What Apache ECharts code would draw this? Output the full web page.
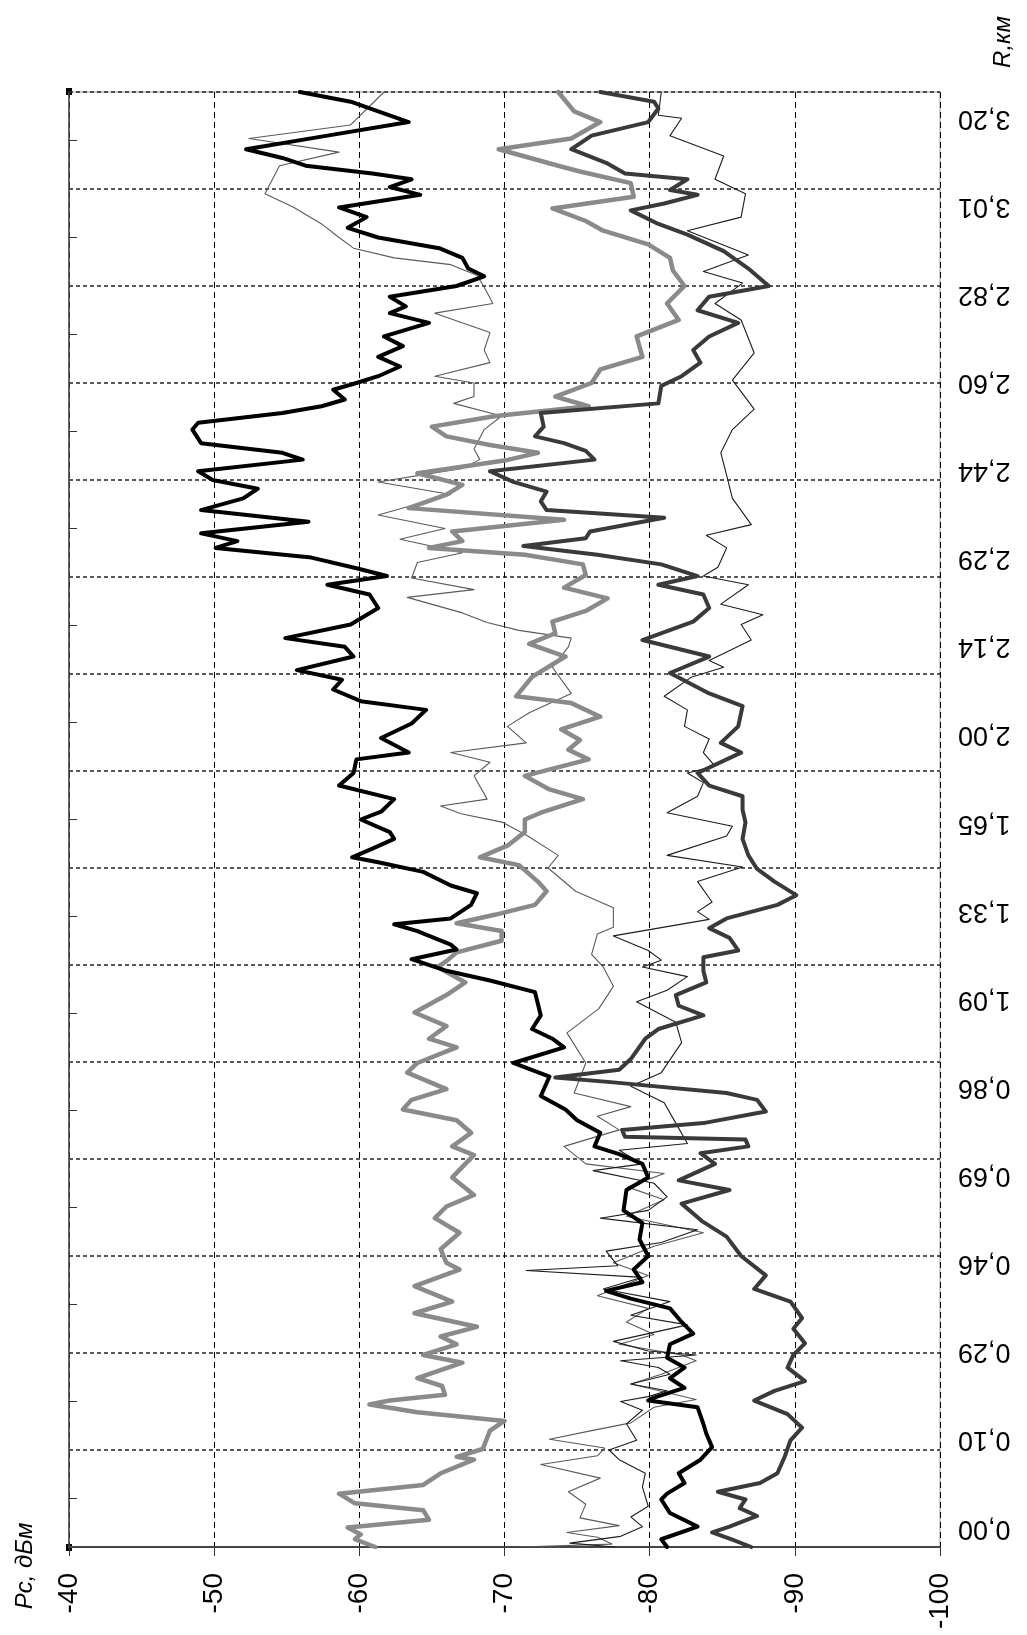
<!DOCTYPE html>
<html>
<head>
<meta charset="utf-8">
<script src="https://cdn.jsdelivr.net/npm/echarts@6/dist/echarts.min.js"></script>
<style>
html,body{margin:0;padding:0;background:#fff;}
#chart{width:1027px;height:1635px;}
</style>
</head>
<body>
<div id="chart"></div>
<script>
// Distance tick labels (R, km), evenly spaced along the sample axis
const rLabels = ['0,00','0,10','0,29','0,46','0,69','0,86','1,09','1,33','1,65','2,00','2,14','2,29','2,44','2,60','2,82','3,01','3,20'];
// Power axis range (dBm)
const pMin = -100, pMax = -40, pStep = 10;
// Sample-position axis: 15 grid divisions
const posMax = 15;

// Each series: [position (grid units from bottom), power dBm]
const blackThick = [[0.00,-81.2],[0.08,-80.8],[0.21,-83.3],[0.35,-81.4],[0.49,-80.8],[0.55,-81.2],[0.66,-82.4],[0.76,-82.0],[0.90,-83.5],[1.03,-84.3],[1.17,-83.9],[1.27,-83.7],[1.44,-83.3],[1.51,-79.9],[1.54,-80.3],[1.64,-82.4],[1.74,-81.4],[1.85,-82.4],[1.95,-81.2],[2.09,-81.4],[2.20,-83.0],[2.32,-82.2],[2.46,-81.4],[2.56,-78.7],[2.64,-77.0],[2.73,-79.5],[2.86,-78.9],[3.00,-79.9],[3.17,-79.3],[3.34,-79.5],[3.47,-78.2],[3.68,-78.4],[3.81,-79.9],[3.95,-79.5],[4.05,-77.9],[4.13,-76.2],[4.27,-76.6],[4.40,-75.0],[4.51,-74.2],[4.65,-72.5],[4.85,-73.1],[4.99,-70.6],[5.15,-74.1],[5.24,-73.3],[5.34,-71.9],[5.48,-72.5],[5.72,-72.1],[5.84,-69.0],[5.94,-66.0],[6.06,-63.6],[6.16,-66.7],[6.21,-66.3],[6.35,-64.0],[6.42,-62.4],[6.48,-66.3],[6.62,-67.7],[6.74,-68.1],[6.82,-66.3],[6.96,-64.4],[7.06,-61.3],[7.11,-59.5],[7.20,-60.9],[7.30,-62.4],[7.37,-62.1],[7.50,-60.1],[7.58,-61.5],[7.71,-62.4],[7.85,-58.6],[7.98,-59.6],[8.12,-59.8],[8.19,-63.4],[8.34,-61.5],[8.49,-63.6],[8.63,-64.6],[8.72,-60.1],[8.84,-58.2],[8.94,-58.8],[9.04,-55.7],[9.18,-59.6],[9.28,-59.0],[9.37,-54.9],[9.51,-59.4],[9.68,-61.3],[9.82,-60.7],[9.92,-57.8],[10.01,-61.9],[10.09,-59.8],[10.20,-56.7],[10.30,-50.1],[10.37,-51.6],[10.45,-49.1],[10.57,-56.5],[10.69,-49.1],[10.81,-52.0],[10.91,-53.0],[11.00,-49.9],[11.09,-48.9],[11.21,-56.1],[11.28,-54.7],[11.38,-49.1],[11.52,-48.5],[11.59,-48.9],[11.69,-54.7],[11.76,-57.4],[11.83,-59.0],[11.93,-58.2],[12.00,-59.8],[12.07,-61.3],[12.17,-62.8],[12.27,-61.3],[12.38,-63.0],[12.48,-61.7],[12.62,-64.8],[12.72,-62.1],[12.79,-63.2],[12.89,-62.1],[13.00,-66.7],[13.10,-68.6],[13.18,-67.5],[13.29,-67.1],[13.39,-65.5],[13.50,-61.3],[13.60,-59.2],[13.71,-60.5],[13.81,-58.6],[13.94,-64.2],[14.02,-62.1],[14.10,-63.6],[14.16,-60.9],[14.24,-56.3],[14.32,-54.7],[14.41,-52.2],[14.55,-57.8],[14.69,-63.4],[14.90,-59.4],[15.00,-55.9]];

const grayThick = [[0.00,-61.1],[0.08,-59.7],[0.13,-60.1],[0.20,-59.2],[0.28,-64.8],[0.38,-64.4],[0.45,-59.7],[0.55,-58.6],[0.64,-64.4],[0.76,-65.6],[0.90,-67.9],[0.93,-66.7],[1.01,-68.5],[1.20,-69.0],[1.30,-70.0],[1.39,-64.0],[1.47,-60.7],[1.51,-62.1],[1.57,-65.9],[1.66,-65.7],[1.74,-64.0],[1.90,-67.1],[1.98,-64.4],[2.09,-66.7],[2.17,-65.6],[2.27,-68.1],[2.41,-63.8],[2.53,-66.4],[2.69,-63.8],[2.86,-66.9],[2.93,-66.0],[3.07,-65.6],[3.24,-66.9],[3.39,-65.2],[3.51,-66.0],[3.63,-67.9],[3.81,-66.4],[3.95,-67.3],[4.04,-67.9],[4.13,-66.4],[4.27,-67.7],[4.40,-66.7],[4.51,-63.0],[4.61,-63.6],[4.72,-66.0],[4.89,-63.3],[4.99,-64.0],[5.15,-66.7],[5.24,-64.8],[5.37,-66.0],[5.51,-63.8],[5.69,-66.0],[5.82,-67.3],[5.98,-65.4],[6.04,-66.0],[6.13,-66.7],[6.25,-69.8],[6.35,-69.8],[6.43,-66.7],[6.52,-69.4],[6.62,-72.1],[6.76,-72.9],[6.86,-72.3],[7.03,-71.0],[7.11,-68.3],[7.23,-70.2],[7.37,-71.4],[7.50,-71.4],[7.57,-72.5],[7.71,-75.4],[7.81,-73.1],[7.95,-71.4],[8.12,-75.8],[8.22,-74.4],[8.32,-75.2],[8.43,-73.9],[8.56,-76.6],[8.70,-74.6],[8.77,-70.8],[8.97,-71.9],[9.18,-74.2],[9.31,-71.7],[9.42,-73.5],[9.54,-73.3],[9.65,-75.6],[9.78,-77.1],[9.89,-74.1],[10.02,-75.6],[10.13,-75.4],[10.23,-71.4],[10.30,-64.8],[10.37,-67.1],[10.47,-66.4],[10.59,-74.1],[10.71,-63.4],[10.85,-66.0],[10.95,-67.1],[11.07,-64.0],[11.20,-70.0],[11.28,-72.3],[11.36,-69.0],[11.45,-66.0],[11.55,-65.0],[11.66,-69.4],[11.76,-75.8],[11.86,-73.5],[12.00,-76.0],[12.14,-76.6],[12.27,-79.5],[12.48,-79.1],[12.65,-82.0],[12.82,-81.2],[13.00,-82.4],[13.16,-81.6],[13.29,-81.4],[13.43,-79.9],[13.57,-76.8],[13.67,-75.6],[13.80,-73.3],[13.92,-78.9],[14.06,-78.7],[14.18,-75.2],[14.24,-73.7],[14.41,-69.6],[14.52,-74.6],[14.69,-76.6],[14.80,-74.8],[15.00,-73.7]];

const darkThick = [[0.00,-87.0],[0.08,-85.6],[0.15,-84.3],[0.21,-85.5],[0.32,-87.4],[0.40,-86.2],[0.49,-86.6],[0.57,-84.7],[0.66,-87.6],[0.76,-88.8],[0.93,-89.3],[1.10,-89.7],[1.23,-90.5],[1.37,-89.5],[1.51,-87.2],[1.61,-88.6],[1.71,-90.7],[1.85,-89.5],[1.98,-89.9],[2.10,-90.7],[2.25,-89.9],[2.36,-90.5],[2.53,-89.7],[2.66,-87.2],[2.80,-88.0],[3.00,-86.3],[3.20,-85.3],[3.36,-83.6],[3.54,-82.2],[3.68,-85.5],[3.78,-82.0],[3.95,-84.5],[4.06,-83.5],[4.13,-86.8],[4.20,-86.6],[4.23,-78.3],[4.30,-78.1],[4.37,-83.7],[4.49,-88.0],[4.61,-87.4],[4.68,-85.3],[4.79,-77.5],[4.84,-73.5],[4.92,-77.9],[5.03,-78.7],[5.24,-79.7],[5.34,-80.6],[5.48,-83.7],[5.58,-82.0],[5.69,-81.8],[5.82,-83.9],[5.94,-83.7],[6.08,-83.7],[6.15,-86.1],[6.28,-85.5],[6.38,-84.1],[6.48,-85.3],[6.62,-88.8],[6.72,-90.1],[6.86,-88.6],[6.99,-87.4],[7.13,-86.8],[7.30,-86.4],[7.47,-86.6],[7.60,-86.4],[7.74,-86.4],[7.85,-84.1],[7.98,-83.3],[8.19,-86.3],[8.29,-84.9],[8.46,-86.1],[8.67,-86.4],[8.80,-84.1],[9.01,-81.4],[9.18,-84.1],[9.35,-79.5],[9.54,-83.0],[9.68,-84.1],[9.82,-83.7],[9.92,-80.6],[10.01,-83.3],[10.13,-80.8],[10.23,-76.4],[10.32,-71.3],[10.40,-75.6],[10.47,-75.9],[10.61,-81.0],[10.69,-72.9],[10.78,-72.5],[10.88,-72.9],[10.98,-70.6],[11.09,-69.0],[11.21,-76.2],[11.30,-75.6],[11.38,-74.1],[11.45,-72.1],[11.55,-72.7],[11.69,-72.5],[11.79,-80.6],[11.97,-80.8],[12.07,-82.2],[12.21,-83.5],[12.34,-83.0],[12.48,-84.1],[12.62,-86.1],[12.75,-83.3],[12.89,-84.1],[13.00,-88.2],[13.18,-86.8],[13.36,-85.1],[13.53,-82.6],[13.64,-80.6],[13.78,-78.7],[13.85,-81.0],[13.94,-83.3],[13.99,-81.4],[14.10,-82.6],[14.16,-78.3],[14.27,-77.0],[14.41,-74.6],[14.55,-76.0],[14.69,-79.9],[14.83,-80.6],[14.90,-80.3],[15.00,-76.6]];

const darkThin = [[0.00,-77.6],[0.04,-74.5],[0.11,-78.0],[0.21,-79.5],[0.31,-78.7],[0.42,-79.9],[0.62,-79.5],[0.76,-79.7],[0.90,-77.9],[1.00,-77.2],[1.10,-79.1],[1.27,-78.4],[1.41,-79.5],[1.50,-78.0],[1.55,-79.9],[1.61,-81.2],[1.68,-78.7],[1.78,-81.4],[1.85,-80.6],[1.92,-78.0],[1.98,-83.2],[2.02,-79.9],[2.12,-77.5],[2.29,-82.6],[2.39,-78.7],[2.53,-81.4],[2.66,-76.8],[2.78,-79.5],[2.85,-71.5],[2.90,-77.8],[3.05,-77.0],[3.14,-80.8],[3.27,-83.3],[3.39,-76.6],[3.47,-79.9],[3.61,-81.2],[3.75,-80.3],[3.88,-76.1],[3.95,-79.5],[4.09,-77.9],[4.16,-82.6],[4.37,-81.8],[4.58,-81.0],[4.75,-78.7],[4.89,-80.8],[5.20,-82.2],[5.41,-81.8],[5.62,-79.1],[5.74,-81.2],[5.88,-82.6],[5.98,-79.5],[6.05,-80.8],[6.15,-79.9],[6.30,-77.5],[6.47,-84.1],[6.55,-83.3],[6.65,-84.3],[6.86,-83.3],[7.01,-86.4],[7.13,-81.2],[7.33,-85.3],[7.43,-85.7],[7.57,-81.2],[7.74,-83.3],[7.88,-83.7],[7.98,-82.6],[8.05,-84.5],[8.19,-83.7],[8.33,-84.1],[8.46,-82.4],[8.63,-82.6],[8.77,-81.0],[8.97,-82.9],[9.07,-85.1],[9.14,-84.1],[9.35,-87.0],[9.51,-86.3],[9.61,-87.8],[9.72,-84.9],[9.92,-86.8],[10.01,-83.7],[10.10,-84.7],[10.30,-85.3],[10.43,-83.9],[10.54,-87.0],[10.81,-85.7],[11.05,-85.3],[11.28,-84.9],[11.52,-85.7],[11.73,-87.2],[12.03,-85.7],[12.31,-87.2],[12.65,-86.3],[12.82,-84.5],[13.03,-86.4],[13.15,-83.7],[13.32,-86.8],[13.57,-82.6],[13.71,-86.3],[13.95,-86.6],[14.10,-84.5],[14.34,-85.1],[14.55,-81.4],[14.73,-82.2],[14.76,-80.6],[15.00,-80.8]];

const grayThin = [[0.00,-71.0],[0.03,-77.4],[0.10,-76.4],[0.15,-74.3],[0.22,-77.9],[0.30,-75.2],[0.44,-75.6],[0.57,-74.4],[0.71,-76.6],[0.85,-72.5],[0.94,-76.4],[1.02,-76.9],[1.11,-73.1],[1.20,-76.0],[1.28,-78.7],[1.44,-80.3],[1.52,-83.2],[1.68,-78.7],[1.78,-80.8],[1.92,-83.2],[1.98,-82.2],[2.09,-77.9],[2.19,-80.3],[2.32,-78.4],[2.46,-79.9],[2.59,-76.4],[2.80,-79.9],[2.93,-77.5],[3.10,-80.3],[3.24,-83.7],[3.41,-78.4],[3.58,-81.0],[3.71,-78.5],[3.85,-81.0],[3.95,-75.6],[4.13,-74.1],[4.30,-77.9],[4.44,-76.4],[4.54,-78.7],[4.68,-74.8],[4.99,-75.6],[5.30,-74.3],[5.55,-76.5],[5.78,-77.5],[5.98,-76.8],[6.11,-76.0],[6.32,-76.4],[6.39,-77.5],[6.59,-77.5],[6.76,-74.9],[7.00,-73.0],[7.13,-73.7],[7.33,-71.6],[7.47,-69.9],[7.56,-67.0],[7.64,-65.6],[7.71,-68.8],[7.95,-67.9],[8.09,-69.0],[8.19,-66.3],[8.29,-71.5],[8.46,-70.2],[8.60,-71.7],[8.80,-74.6],[9.07,-73.3],[9.28,-74.4],[9.37,-74.6],[9.45,-71.0],[9.53,-68.8],[9.63,-67.1],[9.79,-63.3],[9.87,-67.9],[9.99,-63.6],[10.15,-64.0],[10.25,-67.1],[10.39,-62.8],[10.50,-65.9],[10.64,-61.3],[10.85,-66.3],[10.98,-61.3],[11.12,-67.1],[11.21,-68.3],[11.32,-67.9],[11.52,-68.6],[11.66,-69.8],[11.79,-66.5],[11.86,-67.9],[12.00,-67.9],[12.07,-65.2],[12.21,-69.0],[12.34,-68.6],[12.52,-69.0],[12.72,-65.2],[12.82,-69.2],[12.99,-68.6],[13.11,-68.1],[13.22,-66.3],[13.29,-62.4],[13.39,-59.6],[13.50,-58.6],[13.64,-57.4],[13.81,-55.5],[13.95,-53.5],[14.24,-54.5],[14.38,-58.6],[14.52,-52.4],[14.66,-59.4],[15.00,-61.7]];

const toXY = arr => arr.map(d => [d[1], d[0]]);
const FONT = 'Liberation Sans, Arial, sans-serif';

const chart = echarts.init(document.getElementById('chart'), null, {renderer: 'canvas'});

function lineSeries(name, data, color, width, z) {
  return {
    name: name, type: 'line', xAxisIndex: 0, yAxisIndex: 0,
    data: toXY(data), showSymbol: false, symbol: 'none', smooth: false,
    lineStyle: {color: color, width: width, join: 'round', cap: 'round'},
    z: z, silent: true
  };
}

chart.setOption({
  animation: false,
  backgroundColor: '#fff',
  grid: [
    {left: 69, right: 87, top: 92, bottom: 88, show: true, borderColor: '#9a9a9a', borderWidth: 1, containLabel: false},
    {left: 69, right: 87, top: 118, bottom: 107, show: false, containLabel: false}
  ],
  xAxis: [
    {
      type: 'value', gridIndex: 0, min: pMin, max: pMax, interval: pStep, inverse: true,
      position: 'bottom',
      axisLine: {show: true, onZero: false, lineStyle: {color: '#444', width: 2}},
      axisTick: {show: true, length: 9, lineStyle: {color: '#333', width: 1}},
      axisLabel: {rotate: 90, margin: 26, fontSize: 28, fontFamily: FONT, color: '#000',
                  showMinLabel: true, showMaxLabel: true},
      splitLine: {show: true, lineStyle: {color: '#000', width: 1, type: [6, 4]}}
    },
    {type: 'value', gridIndex: 1, min: pMin, max: pMax, inverse: true, show: false}
  ],
  yAxis: [
    {
      type: 'value', gridIndex: 0, min: 0, max: posMax, interval: 1, position: 'left',
      axisLine: {show: true, onZero: false, lineStyle: {color: '#444', width: 1.5}},
      axisTick: {show: false, inside: true},
      minorTick: {show: true, splitNumber: 2, length: 8, lineStyle: {color: '#333', width: 1}},
      axisLabel: {show: false},
      splitLine: {show: true, lineStyle: {color: '#222', width: 1.6, type: [4, 3]}}
    },
    {
      type: 'value', gridIndex: 1, min: 0, max: rLabels.length - 1, interval: 1, position: 'right',
      axisLine: {show: false}, axisTick: {show: false}, splitLine: {show: false},
      axisLabel: {
        rotate: 180, margin: 18, fontSize: 27, fontFamily: FONT, color: '#000',
        showMinLabel: true, showMaxLabel: true,
        formatter: v => { const i = Math.round(v); return Math.abs(v - i) < 1e-6 ? (rLabels[i] || '') : ''; }
      }
    }
  ],
  series: [
    lineSeries('thin-gray', grayThin, '#5a5a5a', 1.1, 2),
    lineSeries('thin-dark', darkThin, '#1c1c1c', 1.1, 3),
    lineSeries('thick-gray', grayThick, '#8a8a8a', 4.5, 4),
    lineSeries('thick-dark', darkThick, '#3a3a3a', 4, 5),
    lineSeries('thick-black', blackThick, '#000000', 4, 6)
  ],
  graphic: [
    {type: 'text', x: 1003, y: 42, rotation: Math.PI / 2,
     style: {text: 'R,км', font: 'italic 24px ' + FONT, fill: '#000', align: 'center', verticalAlign: 'middle',
             textAlign: 'center', textVerticalAlign: 'middle'}},
    {type: 'text', x: 25, y: 1566, rotation: Math.PI / 2,
     style: {text: 'Pc, дБм', font: 'italic 24px ' + FONT, fill: '#000', align: 'center', verticalAlign: 'middle',
             textAlign: 'center', textVerticalAlign: 'middle'}},
    {type: 'rect', shape: {x: 66, y: 88, width: 6, height: 7}, style: {fill: '#000'}},
    {type: 'rect', shape: {x: 66, y: 1544, width: 6, height: 7}, style: {fill: '#000'}}
  ]
});
</script>
</body>
</html>
